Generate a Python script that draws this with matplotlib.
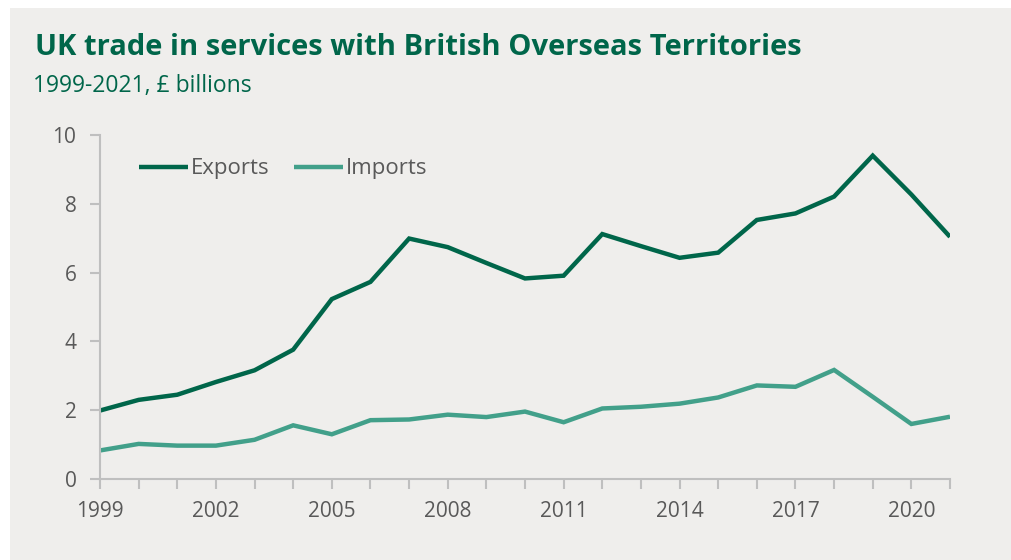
import matplotlib.pyplot as plt
from matplotlib.patches import Rectangle

# UK trade in services with British Overseas Territories, £ billions
years = list(range(1999, 2022))
exports = [1.99, 2.30, 2.45, 2.82, 3.16, 3.76, 5.23, 5.73, 6.99, 6.74, 6.28, 5.83,
           5.91, 7.12, 6.77, 6.43, 6.58, 7.53, 7.72, 8.21, 9.40, 8.27, 7.04]
imports = [0.83, 1.02, 0.97, 0.97, 1.14, 1.56, 1.30, 1.71, 1.73, 1.87, 1.80, 1.96,
           1.65, 2.05, 2.10, 2.19, 2.37, 2.72, 2.68, 3.17, 2.39, 1.60, 1.81]
year_labels = [1999, 2002, 2005, 2008, 2011, 2014, 2017, 2020]
y_ticks = [0, 2, 4, 6, 8, 10]

bg = "#efeeec"
dark_green = "#00664a"
light_green = "#42a08a"
text_grey = "#595959"
axis_grey = "#bfbfbf"

fig = plt.figure(figsize=(10.12, 5.6), dpi=100)
fig.patch.set_facecolor("white")
fig.add_artist(Rectangle((10 / 1012, 0), 1 - 10 / 1012, 552 / 560,
                         transform=fig.transFigure, facecolor=bg,
                         edgecolor="none", zorder=-10))

fig.text(35 / 1012, 1 - 55 / 560, "UK trade in services with British Overseas Territories",
         fontsize=21, fontweight="bold", color=dark_green, family="Open Sans")
fig.text(33 / 1012, 1 - 92 / 560, "1999-2021, £ billions",
         fontsize=16.5, color=dark_green, family="Open Sans")

ax = fig.add_axes([100 / 1012, 81 / 560, 850 / 1012, 344 / 560])
ax.set_facecolor("none")

ax.plot(years, exports, color=dark_green, lw=3.2, label="Exports",
        solid_joinstyle="miter", solid_capstyle="butt")
ax.plot(years, imports, color=light_green, lw=3.2, label="Imports",
        solid_joinstyle="miter", solid_capstyle="butt")

ax.set_xlim(1999, 2021)
ax.set_ylim(0, 10)
ax.set_yticks(y_ticks)
ax.set_xticks(years, minor=True)
ax.set_xticks(year_labels)

for side in ["top", "right"]:
    ax.spines[side].set_visible(False)
for side in ["left", "bottom"]:
    ax.spines[side].set_color(axis_grey)
    ax.spines[side].set_linewidth(1.5)

ax.tick_params(axis="both", which="both", color=axis_grey, width=1.5, length=7,
               labelcolor=text_grey, labelsize=15)
ax.tick_params(axis="x", which="both", direction="out", pad=9)
ax.tick_params(axis="y", pad=10)
for lbl in ax.get_xticklabels() + ax.get_yticklabels():
    lbl.set_family("Open Sans")

leg = ax.legend(loc="upper left", bbox_to_anchor=(0.022, 0.99), ncol=2,
                frameon=False, handlelength=2.2, handletextpad=0.15,
                columnspacing=1.1, prop={"family": "Open Sans", "size": 16})
for t in leg.get_texts():
    t.set_color(text_grey)

fig.savefig("out.png", dpi=100, facecolor=fig.get_facecolor())
